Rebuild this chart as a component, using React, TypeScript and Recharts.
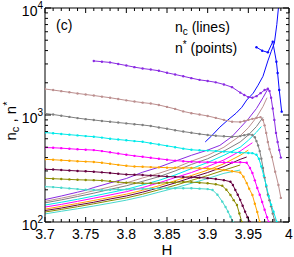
import React from "react";
import { LineChart, Line, XAxis, YAxis } from "recharts";

const FONT = "'Liberation Sans', Arial, Helvetica, sans-serif";

// tick positions
const X_TICKS = [
  3.7, 3.71, 3.72, 3.73, 3.74, 3.75, 3.76, 3.77, 3.78, 3.79, 3.8, 3.81, 3.82, 3.83, 3.84, 3.85,
  3.86, 3.87, 3.88, 3.89, 3.9, 3.91, 3.92, 3.93, 3.94, 3.95, 3.96, 3.97, 3.98, 3.99, 4,
];
const Y_TICKS = [
  100, 200, 300, 400, 500, 600, 700, 800, 900, 1000, 2000, 3000, 4000, 5000, 6000, 7000, 8000,
  9000, 10000,
];

// n* (points), [H, n]
const BLUE_PTS = [[3.96, 4300], [3.967, 3990], [3.974, 3850], [3.98, 4840], [3.9845, 3150], [3.986, 2470], [3.988, 1715], [3.991, 1075]];
const PURPLE_PTS = [[3.76, 3200], [3.77, 3150], [3.78, 3100], [3.79, 3000], [3.8, 2900], [3.81, 2800], [3.82, 2720], [3.83, 2660], [3.84, 2590], [3.85, 2480], [3.86, 2390], [3.87, 2300], [3.88, 2210], [3.89, 2130], [3.9, 2080], [3.91, 2020], [3.92, 1930], [3.93, 1820], [3.94, 1620], [3.945, 1540], [3.95, 1470], [3.955, 1450], [3.96, 1500], [3.965, 1600], [3.97, 1710], [3.974, 1760], [3.976, 1680], [3.978, 1450], [3.98, 1150], [3.982, 900], [3.984, 680], [3.986, 560], [3.988, 470], [3.99, 400]];
const ROSY_PTS = [[3.7, 1750], [3.71, 1710], [3.72, 1670], [3.73, 1630], [3.74, 1590], [3.75, 1555], [3.76, 1520], [3.77, 1485], [3.78, 1450], [3.79, 1410], [3.8, 1370], [3.81, 1335], [3.82, 1305], [3.83, 1280], [3.84, 1240], [3.85, 1190], [3.86, 1140], [3.87, 1080], [3.88, 1040], [3.89, 1010], [3.9, 980], [3.91, 940], [3.92, 900], [3.93, 865], [3.94, 860], [3.945, 880], [3.95, 900], [3.955, 920], [3.96, 940], [3.965, 955], [3.968, 900], [3.97, 800], [3.972, 680], [3.974, 560], [3.976, 480], [3.979, 405], [3.983, 295], [3.987, 222], [3.99, 168]];
const GRAY_PTS = [[3.7, 1035], [3.71, 1010], [3.72, 985], [3.73, 960], [3.74, 935], [3.75, 915], [3.76, 898], [3.77, 880], [3.78, 865], [3.79, 850], [3.8, 835], [3.81, 820], [3.82, 807], [3.83, 790], [3.84, 765], [3.85, 745], [3.86, 720], [3.87, 700], [3.88, 682], [3.89, 665], [3.9, 650], [3.91, 640], [3.92, 632], [3.93, 626], [3.94, 635], [3.945, 648], [3.95, 658], [3.955, 650], [3.958, 620], [3.96, 570], [3.962, 520], [3.964, 460], [3.966, 390], [3.968, 320], [3.97, 260], [3.972, 215], [3.974, 180], [3.976, 160], [3.978, 140], [3.98, 120], [3.982, 105], [3.983, 100]];
const CYAN_PTS = [[3.7, 685], [3.71, 675], [3.72, 665], [3.73, 655], [3.74, 645], [3.75, 635], [3.76, 627], [3.77, 615], [3.78, 600], [3.79, 590], [3.8, 580], [3.81, 570], [3.82, 562], [3.83, 545], [3.84, 530], [3.85, 515], [3.86, 500], [3.87, 485], [3.88, 473], [3.89, 468], [3.9, 465], [3.91, 460], [3.92, 455], [3.93, 450], [3.94, 445], [3.95, 442], [3.955, 440], [3.96, 425], [3.963, 390], [3.966, 330], [3.969, 270], [3.972, 220], [3.975, 175], [3.978, 145], [3.981, 125], [3.985, 100]];
const MAGENTA_PTS = [[3.7, 496], [3.71, 494], [3.72, 490], [3.73, 484], [3.74, 478], [3.75, 474], [3.76, 470], [3.77, 460], [3.78, 448], [3.79, 436], [3.8, 425], [3.81, 415], [3.82, 407], [3.83, 398], [3.84, 390], [3.85, 382], [3.86, 375], [3.87, 370], [3.88, 366], [3.89, 364], [3.9, 362], [3.91, 361], [3.92, 360], [3.93, 360], [3.94, 362], [3.948, 358], [3.952, 320], [3.955, 287], [3.958, 245], [3.961, 208], [3.964, 180], [3.967, 154], [3.97, 130], [3.973, 111], [3.975, 100]];
const ORANGE_PTS = [[3.7, 385], [3.71, 382], [3.72, 378], [3.73, 374], [3.74, 370], [3.75, 367], [3.76, 364], [3.77, 358], [3.78, 350], [3.79, 342], [3.8, 335], [3.81, 330], [3.82, 328], [3.83, 326], [3.84, 324], [3.85, 322], [3.86, 321], [3.87, 320], [3.88, 320], [3.89, 318], [3.9, 316], [3.91, 312], [3.92, 306], [3.93, 298], [3.94, 290], [3.944, 265], [3.948, 231], [3.951, 205], [3.955, 179], [3.958, 148], [3.961, 124], [3.964, 100]];
const MAROON_PTS = [[3.7, 311], [3.71, 309], [3.72, 306], [3.73, 303], [3.74, 300], [3.75, 298], [3.76, 295], [3.77, 291], [3.78, 287], [3.79, 282], [3.8, 278], [3.81, 276], [3.82, 275], [3.83, 272], [3.84, 269], [3.85, 266], [3.86, 264], [3.87, 263], [3.88, 262], [3.89, 260], [3.9, 257], [3.91, 252], [3.92, 246], [3.928, 238], [3.931, 222], [3.934, 199], [3.937, 180], [3.94, 161], [3.943, 142], [3.946, 125], [3.949, 111], [3.952, 100]];
const OLIVE_PTS = [[3.7, 256], [3.71, 254], [3.72, 252], [3.73, 250], [3.74, 248], [3.75, 247], [3.76, 246], [3.77, 244], [3.78, 240], [3.79, 236], [3.8, 233], [3.81, 231], [3.82, 230], [3.83, 230], [3.84, 231], [3.85, 233], [3.86, 235], [3.87, 237], [3.88, 236], [3.89, 233], [3.9, 230], [3.91, 225], [3.918, 218], [3.923, 200], [3.928, 179], [3.932, 160], [3.936, 144], [3.939, 120], [3.942, 100]];
const TURQ_PTS = [[3.7, 214], [3.71, 212], [3.72, 209], [3.73, 206], [3.74, 203], [3.75, 200], [3.76, 199], [3.77, 198], [3.78, 200], [3.79, 201], [3.8, 202], [3.81, 203], [3.82, 204], [3.83, 205], [3.84, 206], [3.85, 207], [3.86, 207], [3.87, 207], [3.88, 207], [3.89, 205], [3.9, 203], [3.906, 199], [3.912, 180], [3.918, 155], [3.922, 138], [3.925, 125], [3.928, 112], [3.931, 100]];

// n_c (lines), [H, n]
const BLUE_LINE = [[3.897, 560], [3.905, 640], [3.915, 770], [3.925, 900], [3.935, 1040], [3.942, 1180], [3.948, 1380], [3.956, 1600], [3.962, 1900], [3.968, 2300], [3.974, 3200], [3.978, 3900], [3.982, 4700], [3.985, 7000], [3.987, 10000]];
const PURPLE_LINE = [[3.7, 162], [3.72, 175], [3.74, 190], [3.75, 198], [3.76, 210], [3.78, 232], [3.8, 255], [3.82, 292], [3.84, 325], [3.86, 370], [3.88, 420], [3.9, 470], [3.915, 520], [3.93, 630], [3.94, 760], [3.95, 920], [3.96, 1150], [3.968, 1450], [3.974, 1750]];
const ROSY_LINE = [[3.7, 156], [3.72, 167], [3.74, 180], [3.76, 196], [3.78, 213], [3.8, 232], [3.82, 258], [3.84, 285], [3.86, 320], [3.88, 370], [3.9, 420], [3.92, 500], [3.94, 640], [3.95, 760], [3.96, 950], [3.968, 1200], [3.973, 1450]];
const GRAY_LINE = [[3.7, 151], [3.72, 161], [3.74, 173], [3.76, 186], [3.78, 202], [3.8, 218], [3.82, 240], [3.84, 265], [3.86, 300], [3.88, 345], [3.9, 390], [3.92, 460], [3.94, 560], [3.95, 650], [3.96, 780], [3.968, 950]];
const CYAN_LINE = [[3.7, 144], [3.72, 153], [3.74, 163], [3.76, 175], [3.78, 188], [3.8, 202], [3.82, 222], [3.84, 245], [3.86, 275], [3.88, 315], [3.9, 360], [3.92, 420], [3.94, 500], [3.95, 580], [3.96, 690], [3.966, 780]];
const MAGENTA_LINE = [[3.7, 138], [3.72, 146], [3.74, 156], [3.76, 167], [3.78, 179], [3.8, 192], [3.82, 210], [3.84, 232], [3.86, 260], [3.88, 290], [3.9, 330], [3.92, 380], [3.94, 460], [3.955, 550]];
const ORANGE_LINE = [[3.7, 132], [3.72, 140], [3.74, 149], [3.76, 159], [3.78, 170], [3.8, 182], [3.82, 198], [3.84, 218], [3.86, 243], [3.88, 272], [3.9, 305], [3.92, 350], [3.94, 420], [3.95, 470]];
const MAROON_LINE = [[3.7, 128], [3.72, 135], [3.74, 144], [3.76, 153], [3.78, 164], [3.8, 175], [3.82, 190], [3.84, 209], [3.86, 232], [3.88, 260], [3.9, 290], [3.92, 330], [3.94, 385], [3.948, 405]];
const OLIVE_LINE = [[3.7, 124], [3.72, 131], [3.74, 139], [3.76, 148], [3.78, 158], [3.8, 168], [3.82, 182], [3.84, 200], [3.86, 220], [3.88, 245], [3.9, 272], [3.92, 305], [3.94, 341]];
const TURQ_LINE = [[3.7, 119], [3.72, 126], [3.74, 133], [3.76, 141], [3.78, 150], [3.8, 160], [3.82, 173], [3.84, 190], [3.86, 208], [3.88, 230], [3.9, 255], [3.92, 285], [3.94, 306]];

const toRows = (arr: number[][]) => arr.map(([h, n]) => ({ h, n }));

const SERIES = [
  { name: "blue", color: "#0a0aff", pts: BLUE_PTS, line: BLUE_LINE },
  { name: "purple", color: "#8a2be2", pts: PURPLE_PTS, line: PURPLE_LINE },
  { name: "rosy", color: "#bc8f8f", pts: ROSY_PTS, line: ROSY_LINE },
  { name: "gray", color: "#808080", pts: GRAY_PTS, line: GRAY_LINE },
  { name: "cyan", color: "#00eaea", pts: CYAN_PTS, line: CYAN_LINE },
  { name: "magenta", color: "#ff00ff", pts: MAGENTA_PTS, line: MAGENTA_LINE },
  { name: "orange", color: "#ffa500", pts: ORANGE_PTS, line: ORANGE_LINE },
  { name: "maroon", color: "#66003f", pts: MAROON_PTS, line: MAROON_LINE },
  { name: "olive", color: "#8b8b00", pts: OLIVE_PTS, line: OLIVE_LINE },
  { name: "turq", color: "#48d8cc", pts: TURQ_PTS, line: TURQ_LINE },
];

const isMajorX = (v: number) => Math.round(v * 100) % 5 === 0;
const isMajorY = (v: number) => {
  const e = Math.log10(v);
  return Math.abs(e - Math.round(e)) < 1e-9;
};

function BottomTick(props: any) {
  const { x, y, payload } = props;
  const v = payload.value;
  const major = isMajorX(v);
  return (
    <g>
      <line x1={x} x2={x} y1={y} y2={y - (major ? 5 : 3)} stroke="#000" />
      {major && (
        <text x={x} y={y + 17} textAnchor="middle" fontSize={14} fontFamily={FONT} fill="#000">
          {String(Number(v.toFixed(2)))}
        </text>
      )}
    </g>
  );
}

function TopTick(props: any) {
  const { x, y, payload } = props;
  const major = isMajorX(payload.value);
  return <line x1={x} x2={x} y1={y} y2={y + (major ? 5 : 3)} stroke="#000" />;
}

function LeftTick(props: any) {
  const { x, y, payload } = props;
  const v = payload.value;
  const major = isMajorY(v);
  return (
    <g>
      <line x1={x} x2={x + (major ? 6 : 3)} y1={y} y2={y} stroke="#000" />
      {major && (
        <text x={x - 2} y={y + 8} textAnchor="end" fontSize={14} fontFamily={FONT} fill="#000">
          10
          <tspan dy={-7} fontSize={10}>
            {Math.round(Math.log10(v))}
          </tspan>
        </text>
      )}
    </g>
  );
}

function RightTick(props: any) {
  const { x, y, payload } = props;
  const major = isMajorY(payload.value);
  return <line x1={x} x2={x - (major ? 6 : 3)} y1={y} y2={y} stroke="#000" />;
}

export default function App() {
  return (
    <div style={{ position: "absolute", left: 0, top: 0, width: 294, height: 257, background: "#fff" }}>
      <LineChart width={294} height={257} margin={{ top: 0, right: 0, bottom: 0, left: 0 }}>
        <XAxis
          type="number"
          dataKey="h"
          domain={[3.7, 4]}
          ticks={X_TICKS}
          interval={0}
          allowDataOverflow
          height={35}
          tickSize={0}
          tickMargin={0}
          tickLine={false}
          axisLine={{ stroke: "#000" }}
          tick={BottomTick}
        />
        <XAxis
          xAxisId="t"
          orientation="top"
          type="number"
          dataKey="h"
          domain={[3.7, 4]}
          ticks={X_TICKS}
          interval={0}
          allowDataOverflow
          height={8}
          tickSize={0}
          tickMargin={0}
          tickLine={false}
          axisLine={{ stroke: "#000" }}
          tick={TopTick}
        />
        <YAxis
          type="number"
          scale="log"
          domain={[100, 10000]}
          ticks={Y_TICKS}
          interval={0}
          allowDataOverflow
          width={45}
          tickSize={0}
          tickMargin={0}
          tickLine={false}
          axisLine={{ stroke: "#000" }}
          tick={LeftTick}
        />
        <YAxis
          yAxisId="r"
          orientation="right"
          type="number"
          scale="log"
          domain={[100, 10000]}
          ticks={Y_TICKS}
          interval={0}
          allowDataOverflow
          width={5}
          tickSize={0}
          tickMargin={0}
          tickLine={false}
          axisLine={{ stroke: "#000" }}
          tick={RightTick}
        />
        <Line
          xAxisId="t"
          yAxisId="r"
          data={toRows(BLUE_PTS)}
          dataKey="n"
          stroke="none"
          dot={false}
          isAnimationActive={false}
        />
        {SERIES.map((s) => (
          <Line
            key={s.name + "-line"}
            data={toRows(s.line)}
            dataKey="n"
            stroke={s.color}
            strokeWidth={1}
            dot={false}
            isAnimationActive={false}
          />
        ))}
        {SERIES.map((s) => (
          <Line
            key={s.name + "-pts"}
            data={toRows(s.pts)}
            dataKey="n"
            stroke={s.color}
            strokeWidth={1}
            dot={{ r: 1.2, fill: s.color, stroke: "none" }}
            isAnimationActive={false}
          />
        ))}
      </LineChart>
      <svg
        width={294}
        height={257}
        style={{ position: "absolute", left: 0, top: 0, pointerEvents: "none" }}
        fontFamily={FONT}
      >
        <text x={56} y={30} fontSize={14}>(c)</text>
        <text x={175} y={32} fontSize={14}>
          n<tspan dy={3} fontSize={10}>c</tspan>
          <tspan dy={-3}> (lines)</tspan>
        </text>
        <text x={175} y={53} fontSize={14}>
          n<tspan dy={-5} fontSize={10}>*</tspan>
          <tspan dy={5}> (points)</tspan>
        </text>
        <text x={167} y={255} fontSize={15} textAnchor="middle">H</text>
        <text transform="translate(16,121) rotate(-90)" fontSize={15} textAnchor="middle">
          n<tspan dy={3} fontSize={11}>c</tspan>
          <tspan dy={-3}> , n</tspan>
          <tspan dy={-5} fontSize={11}>*</tspan>
        </text>
      </svg>
    </div>
  );
}
